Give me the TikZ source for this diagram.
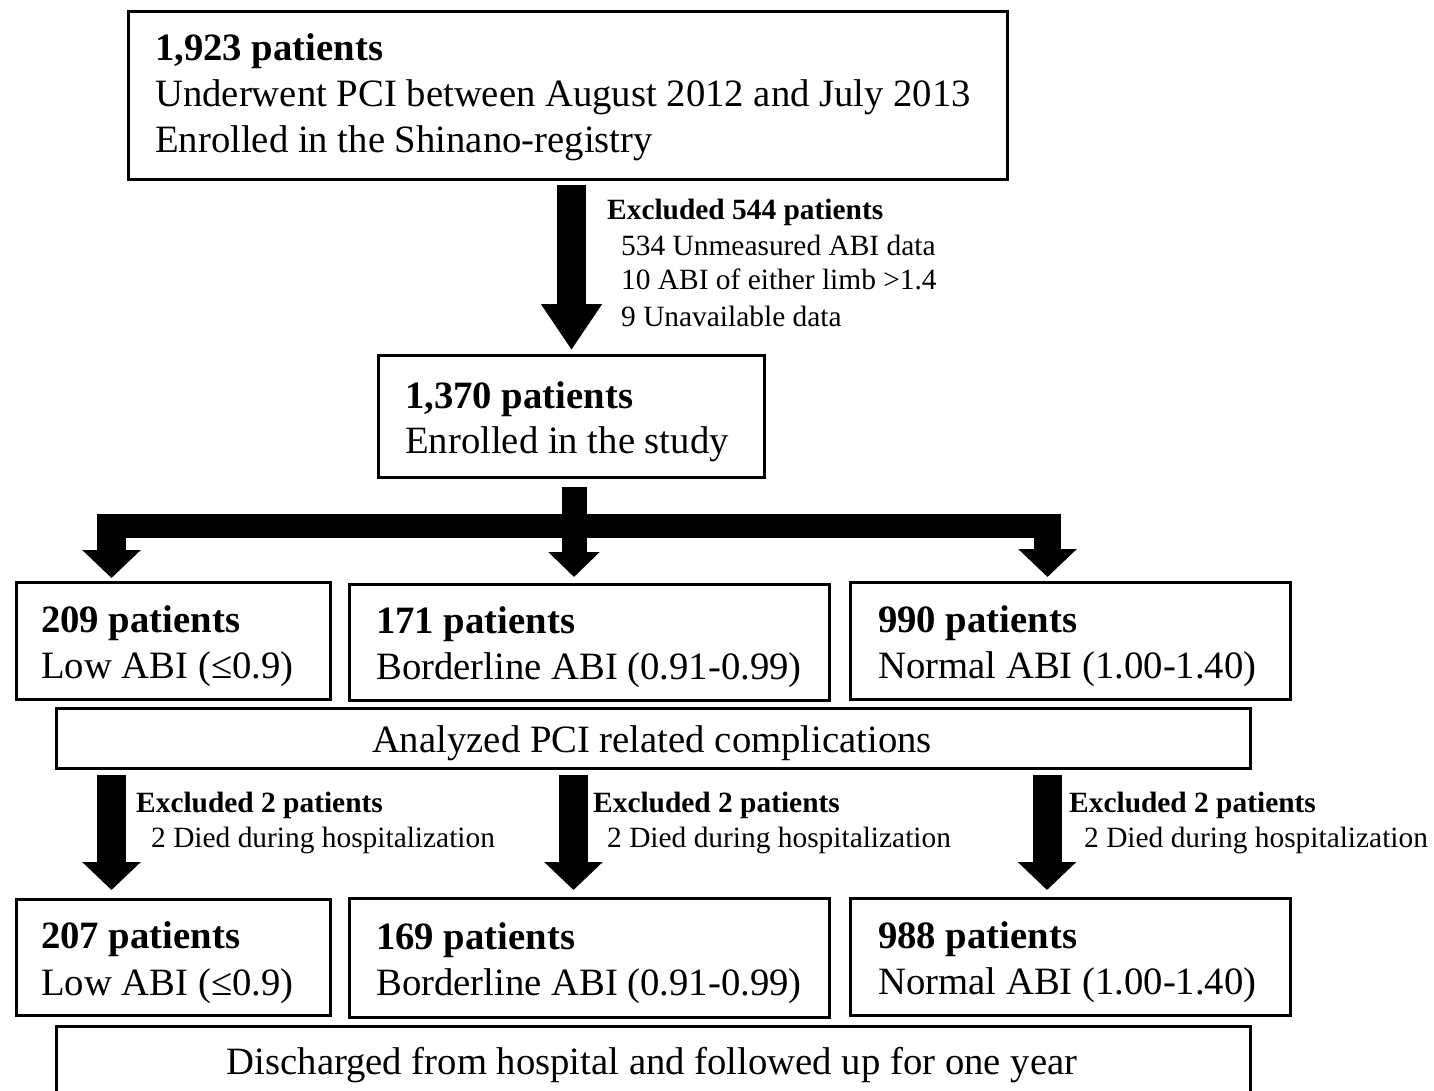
\documentclass[tikz,border=0pt]{standalone}
\usepackage{fontspec}
\setmainfont{Liberation Serif}
\usetikzlibrary{arrows.meta}
\begin{document}
\begin{tikzpicture}[x=1pt,y=-1pt,
  box/.style={draw, line width=2.6pt, inner sep=0pt, anchor=north west},
  big/.style={inner sep=0pt, anchor=base west, font=\fontsize{38.7}{46}\selectfont},
  bigb/.style={inner sep=0pt, anchor=base west, font=\fontsize{38.7}{46}\selectfont\bfseries},
  small/.style={inner sep=0pt, anchor=base west, font=\fontsize{29.4}{35}\selectfont},
  smallb/.style={inner sep=0pt, anchor=base west, font=\fontsize{29.4}{35}\selectfont\bfseries},
  fat/.style={line width=29pt, -{Triangle[width=57pt,length=28pt]}},
  fatmid/.style={line width=25pt, -{Triangle[width=50pt,length=25pt]}},
  fattop/.style={line width=29pt, -{Triangle[width=58pt,length=46pt]}}
]
\useasboundingbox (0,0) rectangle (1434,1091);
\clip (0,0) rectangle (1434,1091);
\fill[white] (0,0) rectangle (1434,1091);

% boxes
\node[box, minimum width=879pt, minimum height=168pt] (top) at (127,10) {};
\node[box, minimum width=386pt, minimum height=122pt] (enr) at (377,354) {};
\node[box, minimum width=314pt, minimum height=117pt] (r1a) at (15,581) {};
\node[box, minimum width=480pt, minimum height=116pt] (r1b) at (348,583) {};
\node[box, minimum width=440pt, minimum height=117pt] (r1c) at (849,581) {};
\node[box, minimum width=1194pt, minimum height=60pt] (ana) at (55,707) {};
\node[box, minimum width=314pt, minimum height=116pt] (r2a) at (15,898) {};
\node[box, minimum width=480pt, minimum height=119pt] (r2b) at (348,897) {};
\node[box, minimum width=440pt, minimum height=117pt] (r2c) at (849,897) {};
\node[box, minimum width=1194pt, minimum height=90pt] (dis) at (55,1025) {};

% texts
\node[bigb] (t1) at (155,61) {1,923 patients};
\node[big] (t2) at (155,107) {Underwent PCI between August 2012 and July 2013};
\node[big] (t3) at (155,153) {Enrolled in the Shinano-registry};

\node[smallb] (x1) at (607,220) {Excluded 544 patients};
\node[small] (x2) at (621,255) {534 Unmeasured ABI data};
\node[small] (x3) at (621,290) {10 ABI of either limb >1.4};
\node[small] (x4) at (621,326) {9 Unavailable data};

\node[bigb] (e1) at (405,408) {1,370 patients};
\node[big] (e2) at (405,453) {Enrolled in the study};

\node[bigb] (a1) at (41,632) {209 patients};
\node[big] (a2) at (41,678) {Low ABI (≤0.9)};
\node[bigb] (b1) at (376,633) {171 patients};
\node[big] (b2) at (376,679) {Borderline ABI (0.91-0.99)};
\node[bigb] (c1) at (878,632) {990 patients};
\node[big] (c2) at (878,678) {Normal ABI (1.00-1.40)};

\node[big, anchor=base] (an) at (652,752) {Analyzed PCI related complications};

\node[smallb] (y1) at (136,812) {Excluded 2 patients};
\node[small] (y2) at (151,847) {2 Died during hospitalization};
\node[smallb] (y3) at (593,812) {Excluded 2 patients};
\node[small] (y4) at (607,847) {2 Died during hospitalization};
\node[smallb] (y5) at (1069,812) {Excluded 2 patients};
\node[small] (y6) at (1084,847) {2 Died during hospitalization};

\node[bigb] (d1) at (41,948) {207 patients};
\node[big] (d2) at (41,995) {Low ABI (≤0.9)};
\node[bigb] (f1) at (376,949) {169 patients};
\node[big] (f2) at (376,995) {Borderline ABI (0.91-0.99)};
\node[bigb] (g1) at (878,948) {988 patients};
\node[big] (g2) at (878,994) {Normal ABI (1.00-1.40)};

\node[big, anchor=base] (dn) at (652,1074) {Discharged from hospital and followed up for one year};

% arrows
\coordinate (ax) at (571.5,0);
\draw[fattop, shorten <=4pt, shorten >=4pt] (top.south -| ax) -- (enr.north -| ax);

\coordinate (mx) at (574,0);
\draw[fatmid, shorten <=8pt, shorten >=6pt] (enr.south -| mx) -- (r1b.north -| mx);
\coordinate (bl) at (111.5,514);
\coordinate (br) at (1047.5,514);
\fill (97,514) rectangle (1061,538);
\draw[fat, shorten >=3pt] (bl) -- (r1a.north -| bl);
\draw[fat, line width=27pt, shorten >=4pt] (br) -- (r1c.north -| br);

\coordinate (lx) at (111.5,0);
\coordinate (cx) at (573.5,0);
\coordinate (rx) at (1047,0);
\draw[fat, shorten <=5pt, shorten >=8pt] (ana.south -| lx) -- (r2a.north -| lx);
\draw[fat, shorten <=5pt, shorten >=7pt] (ana.south -| cx) -- (r2b.north -| cx);
\draw[fat, shorten <=5pt, shorten >=7pt] (ana.south -| rx) -- (r2c.north -| rx);
\end{tikzpicture}
\end{document}
